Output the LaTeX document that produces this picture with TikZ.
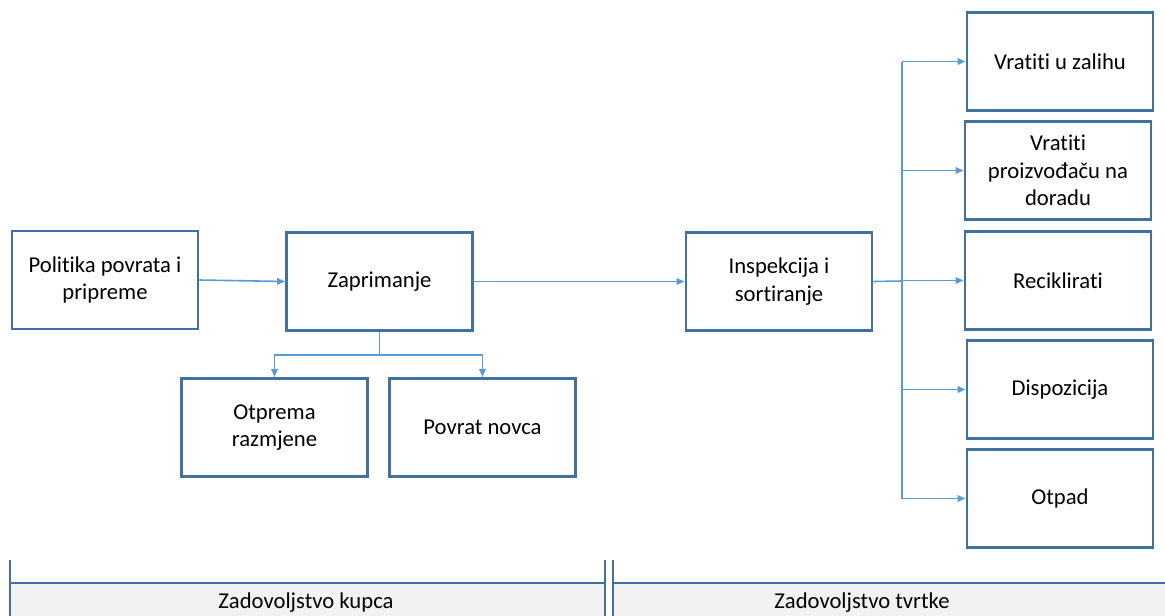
\documentclass[tikz,border=0pt]{standalone}
\usepackage{fontspec}
\setmainfont{Carlito}[RawFeature={-liga}]
\usetikzlibrary{arrows.meta}
\definecolor{boxblue}{HTML}{41719C}
\definecolor{arrblue}{HTML}{5B9BD5}
\definecolor{bandgray}{HTML}{F2F2F2}
\tikzset{
  box/.style={draw=boxblue, line width=2.2pt, fill=white, minimum width=139.5pt, minimum height=73.5pt,
    align=center, inner sep=2pt, font=\fontsize{17}{20.6}\selectfont},
  conn/.style={draw=arrblue, line width=1.2pt},
  arr/.style={conn, -{Triangle[length=6pt,width=5pt]}},
  bandline/.style={draw=boxblue, line width=1.6pt},
  bandtext/.style={font=\fontsize{17}{20}\selectfont, anchor=base}
}
\begin{document}
\begin{tikzpicture}[x=0.75pt,y=-0.75pt]
\useasboundingbox (0,0) rectangle (1165,615);
\clip (0,0) rectangle (1165,615);
% bottom bands
\fill[bandgray] (10,583) rectangle (605,620);
\fill[bandgray] (613,583) rectangle (1170,620);
\draw[bandline] (10,560) -- (10,620);
\draw[bandline] (10,583) -- (605,583);
\draw[bandline] (605,560) -- (605,620);
\draw[bandline] (613,560) -- (613,620);
\draw[bandline] (613,583) -- (1170,583);
\node[bandtext] (kupca) at (306,608) {Zadovoljstvo kupca};
\node[bandtext] (tvrtke) at (862,608) {Zadovoljstvo tvrtke};
% boxes
\node[box] (pol) at (105,280) {Politika povrata i\\pripreme};
\node[box] (zap) at (379.5,281.5) {Zaprimanje};
\node[box] (otp) at (274.5,427.5) {Otprema\\razmjene};
\node[box] (pov) at (482.5,427.5) {Povrat novca};
\node[box] (ins) at (779,281.5) {Inspekcija i\\sortiranje};
\node[box] (v1) at (1060,61.5) {Vratiti u zalihu};
\node[box] (v2) at (1058,170.5) {Vratiti\\proizvođaču na\\doradu};
\node[box] (rec) at (1058,280.5) {Reciklirati};
\node[box] (dis) at (1060,389.5) {Dispozicija};
\node[box] (otpad) at (1060,498.5) {Otpad};
% connectors
\draw[arr] (pol.east) -- (zap.west);
\draw[arr] (zap.east) -- (ins.west);
\draw[conn] (zap.south) -- ++(0,23) coordinate (zs);
\draw[arr] (zs) -| (otp.north);
\draw[arr] (zs) -| (pov.north);
\coordinate (split) at (902,281);
\draw[conn] (ins.east) -- (split);
\draw[conn] (split |- v1.west) -- (split |- otpad.west);
\draw[arr] (split |- v1.west) -- (v1.west);
\draw[arr] (split |- v2.west) -- (v2.west);
\draw[arr] (split |- rec.west) -- (rec.west);
\draw[arr] (split |- dis.west) -- (dis.west);
\draw[arr] (split |- otpad.west) -- (otpad.west);
\end{tikzpicture}
\end{document}
